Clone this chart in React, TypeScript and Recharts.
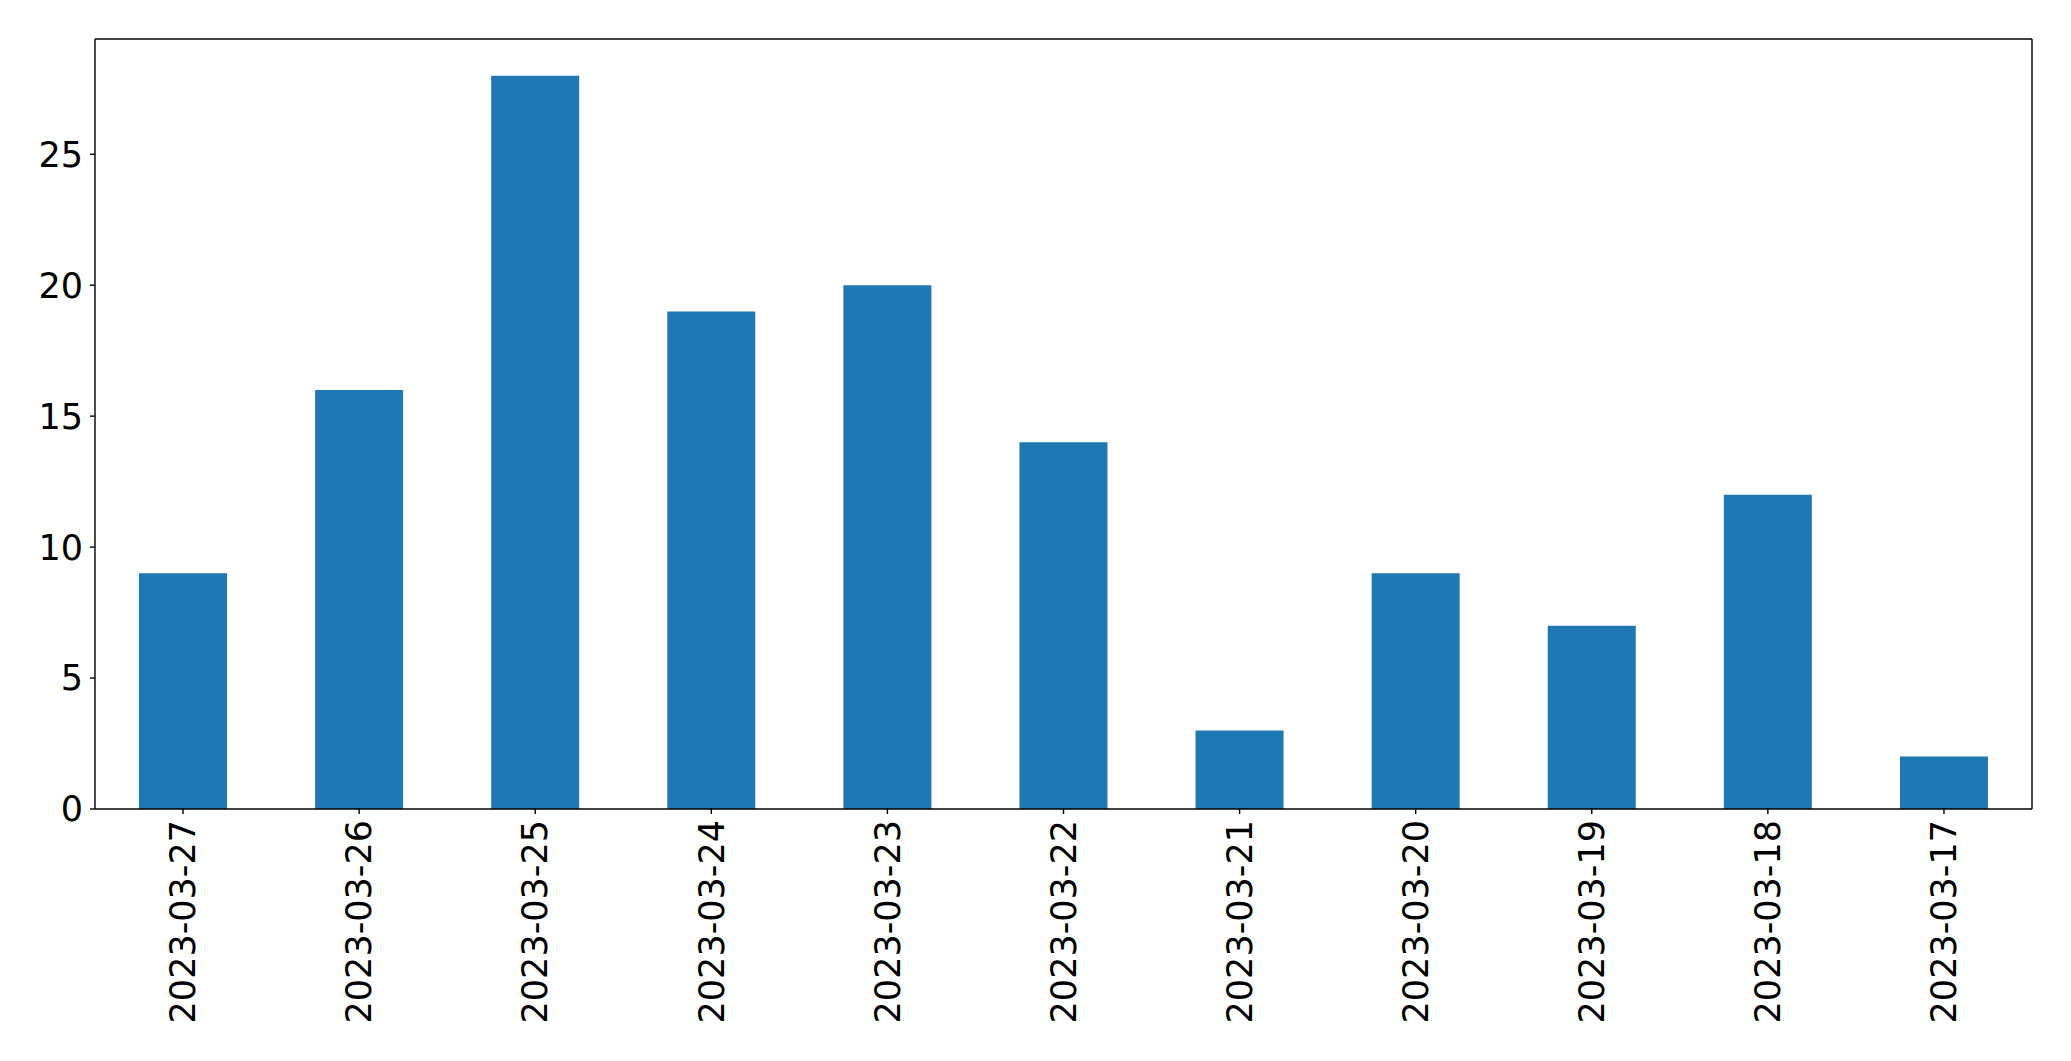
import React from 'react';
import { BarChart, Bar, XAxis, YAxis } from 'recharts';

// dates, newest first (as in the source plot)
const dates = [
  '2023-03-27', '2023-03-26', '2023-03-25', '2023-03-24', '2023-03-23', '2023-03-22',
  '2023-03-21', '2023-03-20', '2023-03-19', '2023-03-18', '2023-03-17'
];
const counts = [9, 16, 28, 19, 20, 14, 3, 9, 7, 12, 2];
const yTicks = [0, 5, 10, 15, 20, 25];

const data = dates.map((date, i) => ({ date, count: counts[i] }));

const FONT = 'DejaVu Sans, sans-serif';
const SIZE = 35;

// rotated date label under each bar
const DateTick = ({ x, y, payload }: any) => (
  <text
    x={x}
    y={y}
    transform={`rotate(-90, ${x}, ${y})`}
    textAnchor="end"
    dy="0.35em"
    fontSize={SIZE}
    fontFamily={FONT}
    fill="#000"
  >
    {payload.value}
  </text>
);

const line = { stroke: '#000', strokeWidth: 1.4 };

export default function App() {
  return (
    <div style={{ position: 'absolute', left: 0, top: 0, background: '#fff' }}>
      <BarChart
        width={2071}
        height={1061}
        data={data}
        margin={{ top: 38, right: 38, left: 0, bottom: 0 }}
        barCategoryGap="25%"
      >
        <XAxis
          dataKey="date"
          height={252}
          interval={0}
          tick={<DateTick />}
          tickSize={5}
          tickMargin={6}
          axisLine={line}
          tickLine={line}
        />
        <XAxis
          xAxisId="top"
          dataKey="date"
          orientation="top"
          height={1}
          tick={false}
          tickLine={false}
          axisLine={line}
        />
        <YAxis
          width={95}
          domain={[0, 29.4]}
          ticks={yTicks}
          interval={0}
          tickSize={5}
          tickMargin={7}
          axisLine={line}
          tickLine={line}
          tick={{ fill: '#000', fontSize: SIZE, fontFamily: FONT }}
        />
        <YAxis
          yAxisId="right"
          orientation="right"
          width={1}
          domain={[0, 29.4]}
          tick={false}
          tickLine={false}
          axisLine={line}
        />
        <Bar dataKey="count" fill="#1f77b4" isAnimationActive={false} />
      </BarChart>
    </div>
  );
}
